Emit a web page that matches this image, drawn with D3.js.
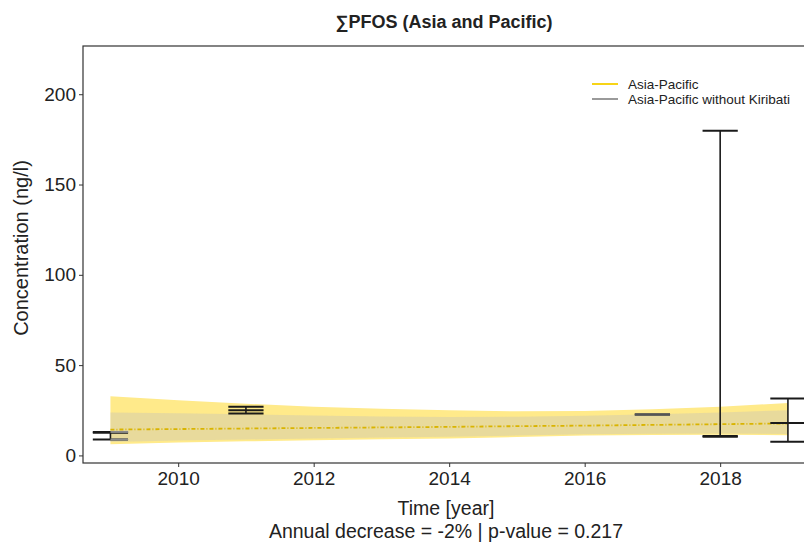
<!DOCTYPE html>
<html>
<head>
<meta charset="utf-8">
<script src="https://cdn.jsdelivr.net/npm/d3@7"></script>
<style>
  body { margin: 0; background: #fff; }
  text { font-family: "Liberation Sans", Arial, sans-serif; fill: #222; }
</style>
</head>
<body>
<div id="wrapper"></div>
<script>
// error bars (mean, min, max) per sampling year
const years = [2009, 2011, 2017, 2018, 2019];
const means = [12.6, 25.0, 22.7, 10.8, 18.0];
const lows = [8.8, 23.2, 22.7, 10.3, 7.5];
const highs = [13.0, 26.9, 22.7, 179.8, 31.5];

// grey error bar (without Kiribati) shown at 2009
const greyYears = [2009];
const greyLows = [8.8];
const greyHighs = [13.0];

// fitted trend and confidence bands
const fitYears = [2009, 2010, 2011, 2012, 2013, 2014, 2015, 2016, 2017, 2018, 2019];
const trend = [14.3, 14.6, 14.9, 15.2, 15.5, 15.8, 16.2, 16.5, 16.9, 17.3, 17.7];
const apUpper = [32.8, 30.6, 28.6, 27.0, 25.8, 25.0, 24.4, 24.6, 25.5, 27.0, 29.0];
const apLower = [6.2, 7.2, 7.8, 8.4, 9.0, 9.4, 10.2, 11.0, 11.3, 11.4, 11.2];
const nkUpper = [23.8, 23.4, 22.8, 22.1, 21.6, 21.3, 21.4, 22.0, 22.8, 23.8, 25.0];
const nkLower = [7.4, 8.2, 8.8, 9.4, 9.9, 10.3, 11.0, 11.7, 12.0, 12.1, 11.9];

const xTicks = [2010, 2012, 2014, 2016, 2018];
const yTicks = [0, 50, 100, 150, 200];
const legendItems = ["Asia-Pacific", "Asia-Pacific without Kiribati"];
const legendColors = ["#F7D417", "#9a9a9a"];

let dimensions = {
  width: 804,
  height: 543,
  margin: { top: 46, left: 83, bottom: 80, right: -10 }
}
dimensions.boundedWidth = dimensions.width - dimensions.margin.left - dimensions.margin.right;
dimensions.boundedHeight = dimensions.height - dimensions.margin.top - dimensions.margin.bottom;

const wrapper = d3.select("#wrapper").append("svg")
    .attr("width", dimensions.width)
    .attr("height", dimensions.height);

const xScale = d3.scaleLinear()
    .domain([2008.595, 2019.385])
    .range([dimensions.margin.left, dimensions.margin.left + dimensions.boundedWidth]);
const yScale = d3.scaleLinear()
    .domain([-4.2, 226.7])
    .range([dimensions.margin.top + dimensions.boundedHeight, dimensions.margin.top]);

// confidence bands
const band = (up, lo) => d3.area()
    .x((d, i) => xScale(fitYears[i]))
    .y0((d, i) => yScale(lo[i]))
    .y1((d, i) => yScale(up[i]));

wrapper.append("path")
    .attr("d", band(apUpper, apLower)(fitYears))
    .attr("fill", "#FFEA8A");
wrapper.append("path")
    .attr("d", band(nkUpper, nkLower)(fitYears))
    .attr("fill", "#BEBEBE")
    .attr("opacity", 0.35);

// trend line
wrapper.append("path")
    .attr("d", d3.line().x((d, i) => xScale(fitYears[i])).y((d, i) => yScale(trend[i]))(fitYears))
    .attr("fill", "none")
    .attr("stroke", "#D9B400")
    .attr("stroke-width", 1.8)
    .attr("stroke-dasharray", "4,2,1,2");

// error bars
const half = 0.26;
const bars = wrapper.append("g").attr("stroke", "#1a1a1a").attr("stroke-width", 1.6);
years.forEach((yr, i) => {
  const x0 = xScale(yr - half), x1 = xScale(yr + half), xc = xScale(yr);
  const col = yr === 2017 ? "#555" : "#1a1a1a";
  if (highs[i] > lows[i]) {
    bars.append("line").attr("x1", xc).attr("x2", xc)
        .attr("y1", yScale(highs[i])).attr("y2", yScale(lows[i]));
  }
  [highs[i], means[i], lows[i]].forEach(v => {
    bars.append("line")
        .attr("x1", x0).attr("x2", x1)
        .attr("y1", yScale(v)).attr("y2", yScale(v))
        .attr("stroke", col)
        .attr("stroke-width", 2);
  });
});
greyYears.forEach((yr, i) => {
  [greyHighs[i], greyLows[i]].forEach(v => {
    wrapper.append("line")
        .attr("x1", xScale(yr)).attr("x2", xScale(yr + half))
        .attr("y1", yScale(v)).attr("y2", yScale(v))
        .attr("stroke", "#8a8a8a")
        .attr("stroke-width", 2);
  });
});

// panel border
wrapper.append("rect")
    .attr("x", dimensions.margin.left)
    .attr("y", dimensions.margin.top)
    .attr("width", dimensions.boundedWidth)
    .attr("height", dimensions.boundedHeight)
    .attr("fill", "none")
    .attr("stroke", "#333")
    .attr("stroke-width", 1.2);

// axes
const xAxisGen = d3.axisBottom(xScale).tickValues(xTicks).tickFormat(d3.format("d")).tickSize(4).tickPadding(5);
const yAxisGen = d3.axisLeft(yScale).tickValues(yTicks).tickSize(4).tickPadding(3);

const axisX = wrapper.append("g")
    .attr("transform", `translate(0, ${dimensions.margin.top + dimensions.boundedHeight})`)
    .call(xAxisGen);
const axisY = wrapper.append("g")
    .attr("transform", `translate(${dimensions.margin.left}, 0)`)
    .call(yAxisGen);
[axisX, axisY].forEach(ax => {
  ax.select(".domain").remove();
  ax.selectAll("line").attr("stroke", "#333");
  ax.selectAll("text")
      .style("font-family", "Liberation Sans, Arial, sans-serif")
      .style("font-size", "19px")
      .attr("fill", "#222");
});

// title
wrapper.append("text")
    .attr("x", 444)
    .attr("y", 28)
    .attr("text-anchor", "middle")
    .style("font-size", "18px")
    .style("font-weight", "bold")
    .text("∑PFOS (Asia and Pacific)");

// X label + note
wrapper.append("text")
    .attr("x", 446)
    .attr("y", 515)
    .attr("text-anchor", "middle")
    .style("font-size", "19.5px")
    .text("Time [year]");
wrapper.append("text")
    .attr("x", 446)
    .attr("y", 538)
    .attr("text-anchor", "middle")
    .style("font-size", "19.5px")
    .text("Annual decrease = -2% | p-value = 0.217");

// Y label
wrapper.append("text")
    .attr("text-anchor", "middle")
    .attr("transform", "translate(28, 248) rotate(-90)")
    .style("font-size", "20px")
    .text("Concentration (ng/l)");

// legend
const legend = wrapper.append("g");
legendItems.forEach((name, i) => {
  const ly = 84 + i * 15;
  legend.append("line")
      .attr("x1", 592).attr("x2", 618)
      .attr("y1", ly).attr("y2", ly)
      .attr("stroke", legendColors[i])
      .attr("stroke-width", 2);
  legend.append("text")
      .attr("x", 628)
      .attr("y", ly + 4.5)
      .style("font-size", "13.5px")
      .text(name);
});
</script>
</body>
</html>
